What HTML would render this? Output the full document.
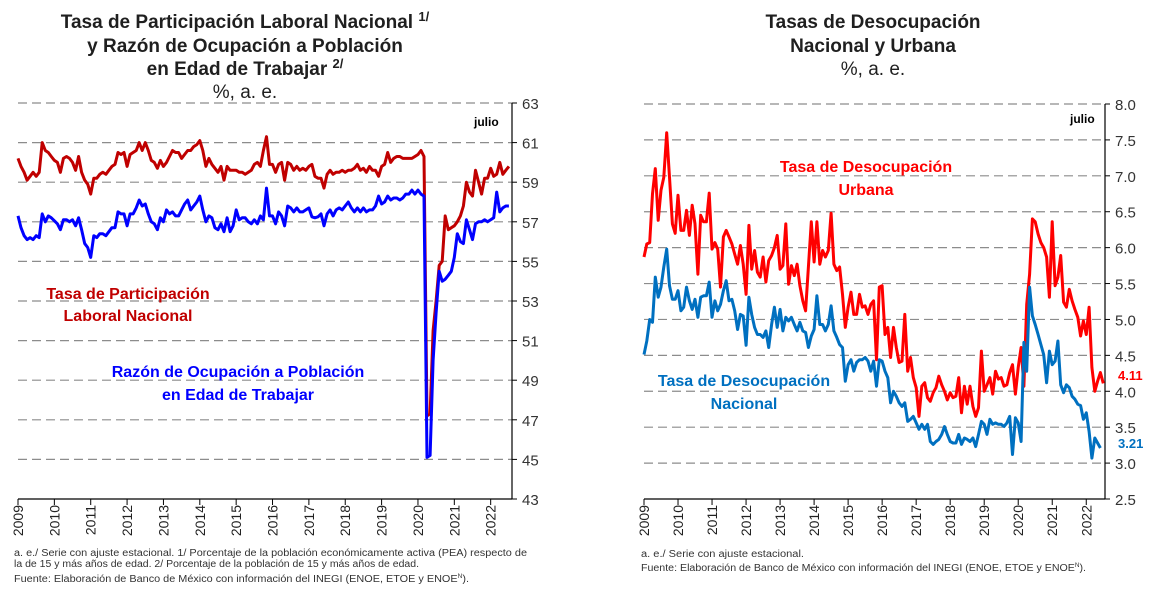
<!DOCTYPE html>
<html><head><meta charset="utf-8"><style>
html,body{margin:0;padding:0;background:#fff;}
svg{display:block;font-family:"Liberation Sans",sans-serif;}
</style></head><body>
<svg id="c" width="1160" height="591" viewBox="0 0 1160 591" xmlns="http://www.w3.org/2000/svg">
<g font-weight="bold" font-size="19" text-anchor="middle" fill="#1f1f1f">
<text x="245" y="28">Tasa de Participación Laboral Nacional <tspan font-size="13" dy="-7">1/</tspan></text>
<text x="245" y="52">y Razón de Ocupación a Población</text>
<text x="245" y="75">en Edad de Trabajar <tspan font-size="13" dy="-7">2/</tspan></text>
<text x="245" y="98" font-weight="normal">%, a. e.</text>
</g>
<g font-weight="bold" font-size="19" text-anchor="middle" fill="#1f1f1f">
<text x="873" y="28">Tasas de Desocupación</text>
<text x="873" y="52">Nacional y Urbana</text>
<text x="873" y="75" font-weight="normal">%, a. e.</text>
</g>
<g id="L"></g><g id="R"></g>
<g font-weight="bold" font-size="16" text-anchor="middle">
<text x="128" y="299" fill="#c00000">Tasa de Participación</text>
<text x="128" y="321" fill="#c00000">Laboral Nacional</text>
<text x="238" y="377" fill="#0000ff">Razón de Ocupación a Población</text>
<text x="238" y="400" fill="#0000ff">en Edad de Trabajar</text>
<text x="866" y="172" fill="#ff0000">Tasa de Desocupación</text>
<text x="866" y="195" fill="#ff0000">Urbana</text>
<text x="744" y="386" fill="#0070c0">Tasa de Desocupación</text>
<text x="744" y="409" fill="#0070c0">Nacional</text>
</g>
<text x="474" y="126" font-size="12" font-weight="bold">julio</text>
<text x="1070" y="123" font-size="12" font-weight="bold">julio</text>
<text x="1118" y="380" font-size="13" font-weight="bold" fill="#ff0000">4.11</text>
<text x="1118" y="448" font-size="13" font-weight="bold" fill="#0070c0">3.21</text>
<g font-size="10" fill="#333">
<text x="14" y="556" textLength="513" lengthAdjust="spacingAndGlyphs">a. e./ Serie con ajuste estacional. 1/ Porcentaje de la población económicamente activa (PEA) respecto de</text>
<text x="14" y="567" textLength="405" lengthAdjust="spacingAndGlyphs">la de 15 y más años de edad. 2/ Porcentaje de la población de 15 y más años de edad.</text>
<text x="14" y="582" textLength="455" lengthAdjust="spacingAndGlyphs">Fuente: Elaboración de Banco de México con información del INEGI (ENOE, ETOE y ENOE<tspan font-size="6" dy="-4">N</tspan><tspan dy="4">).</tspan></text>
</g>
<g font-size="10" fill="#333">
<text x="641" y="557" textLength="163" lengthAdjust="spacingAndGlyphs">a. e./ Serie con ajuste estacional.</text>
<text x="641" y="571" textLength="445" lengthAdjust="spacingAndGlyphs">Fuente: Elaboración de Banco de México con información del INEGI (ENOE, ETOE y ENOE<tspan font-size="6" dy="-4">N</tspan><tspan dy="4">).</tspan></text>
</g>
</svg>
<script>
const years=["2009","2010","2011","2012","2013","2014","2015","2016","2017","2018","2019","2020","2021","2022"];
const leftTicks=[43,45,47,49,51,53,55,57,59,61,63];
const rightTicks=["2.5","3.0","3.5","4.0","4.5","5.0","5.5","6.0","6.5","7.0","7.5","8.0"];
const participacion=[
60.2,59.8,59.5,59.1,59.3,59.5,59.3,59.5,61.0,60.6,60.5,60.3,
60.1,60.0,59.5,60.2,60.3,60.2,60.0,59.6,60.3,59.5,59.1,58.9,
58.4,59.2,59.2,59.4,59.5,59.4,59.6,59.8,59.9,60.5,60.4,60.5,
59.8,60.4,60.5,60.6,61.0,60.6,61.0,60.6,60.1,60.0,59.7,60.1,
59.8,60.0,60.3,60.6,60.5,60.5,60.2,60.4,60.6,60.6,60.8,60.9,
61.1,60.6,59.8,60.2,59.9,59.7,59.5,59.8,59.1,59.8,59.6,59.6,
59.6,59.5,59.5,59.4,59.5,59.6,59.9,60.0,59.8,60.6,61.3,59.9,
59.9,59.5,59.9,60.0,59.1,60.0,59.9,59.6,59.8,59.6,59.7,59.6,
59.8,59.9,59.3,59.2,59.2,58.7,59.4,59.6,59.4,59.5,59.5,59.6,
59.5,59.6,59.6,59.7,59.9,59.6,59.7,59.5,59.8,59.6,59.6,59.3,
59.8,59.9,60.5,60.0,60.2,60.3,60.3,60.2,60.2,60.2,60.2,60.3,
60.4,60.6,60.3,47.2,47.3,51.5,53.0,54.8,55.0,57.3,56.6,56.7,
56.8,57.0,57.3,57.8,59.0,58.5,58.3,59.6,59.0,58.4,59.2,59.2,
59.7,59.3,59.4,60.0,59.4,59.6,59.8];
const ocupacion=[
57.3,56.7,56.3,56.1,56.2,56.1,56.3,56.2,57.4,57.0,57.3,57.2,
57.05,56.9,56.6,57.1,57.1,57.0,57.1,56.8,57.2,56.6,55.9,55.7,
55.2,56.3,56.2,56.4,56.4,56.3,56.5,56.7,56.7,57.5,57.4,57.4,
56.8,57.4,57.4,57.7,58.1,57.8,57.9,57.4,57.0,56.9,56.6,57.2,
57.0,57.6,57.4,57.5,57.3,57.3,57.6,57.9,58.1,57.6,57.8,58.0,
58.3,57.6,57.0,57.3,57.2,56.7,56.6,56.9,56.5,57.2,56.5,56.8,
57.6,57.1,57.2,57.2,57.0,56.9,57.1,56.9,57.3,57.1,58.7,57.3,
57.3,56.9,57.5,57.3,56.8,57.8,57.7,57.5,57.7,57.5,57.5,57.6,
57.7,57.25,57.2,57.25,57.4,56.8,57.4,57.6,57.3,57.6,57.7,57.6,
57.8,58.0,57.7,57.5,57.7,57.5,57.7,57.5,57.6,57.6,57.8,58.3,
57.9,58.0,58.3,58.1,58.2,58.2,58.1,58.2,58.4,58.4,58.6,58.4,
58.6,58.4,58.3,45.1,45.2,50.0,52.4,54.5,54.0,54.1,54.3,54.5,
55.2,56.4,56.0,55.9,57.1,56.6,56.1,56.9,57.0,57.0,57.1,57.0,
57.1,57.2,58.5,57.5,57.7,57.8,57.8];
const urbana=[
5.87,6.05,6.07,6.75,7.10,6.38,6.80,6.98,7.60,6.98,6.33,6.20,
6.73,6.24,6.24,6.52,6.17,6.59,6.33,5.63,6.45,6.36,6.36,6.76,
5.98,6.07,5.98,5.45,6.15,6.24,6.15,6.05,5.91,5.77,6.03,5.77,
5.35,6.31,5.70,5.96,5.66,5.59,5.87,5.52,5.82,5.89,6.00,6.17,
5.70,5.75,6.33,5.49,5.75,5.61,5.77,5.47,5.26,5.12,5.73,6.36,
5.80,6.36,5.77,5.96,5.87,5.96,6.48,5.77,5.68,5.73,5.35,4.89,
5.17,5.38,5.07,5.07,5.35,5.17,5.19,5.07,5.21,5.26,4.44,5.45,
5.47,4.79,4.89,4.47,4.89,4.61,4.40,4.42,5.07,4.28,4.47,4.19,
4.05,3.65,4.07,4.12,3.91,3.86,3.98,4.05,4.21,4.09,4.00,3.88,
3.98,3.91,3.93,4.19,3.70,4.07,3.82,4.07,3.79,3.65,3.77,4.56,
4.00,4.09,4.19,3.96,4.28,4.17,4.19,4.07,4.09,4.26,4.37,3.96,
4.33,4.61,4.07,5.21,5.63,6.40,6.36,6.19,6.07,6.00,5.87,5.31,
6.36,5.47,5.59,5.89,5.24,5.17,5.42,5.26,5.14,5.03,4.77,4.98,
4.79,5.17,4.33,4.00,4.14,4.26,4.11];
const nacional=[
4.51,4.70,5.00,4.96,5.59,5.31,5.45,5.73,5.98,5.47,5.28,5.28,
5.40,5.12,5.17,5.45,5.26,5.14,5.28,5.03,5.31,5.33,5.33,5.52,
5.03,5.26,5.12,5.21,5.40,5.54,5.26,5.28,5.12,4.86,5.07,5.05,
4.64,5.31,5.07,4.89,4.79,4.79,4.75,4.84,4.61,4.93,5.17,4.89,
5.14,4.84,5.03,4.98,5.03,4.93,4.84,4.96,4.84,4.82,4.61,4.77,
4.86,5.33,4.93,4.93,4.84,4.93,5.19,4.84,4.75,4.65,4.61,4.14,
4.37,4.44,4.28,4.40,4.44,4.44,4.47,4.42,4.28,4.42,4.07,4.44,
4.42,4.28,4.19,3.84,4.00,3.93,3.84,3.79,3.84,3.58,3.61,3.65,
3.56,3.47,3.54,3.47,3.54,3.30,3.26,3.30,3.33,3.40,3.51,3.40,
3.30,3.28,3.28,3.40,3.26,3.35,3.33,3.30,3.35,3.23,3.40,3.58,
3.54,3.40,3.61,3.54,3.56,3.54,3.54,3.51,3.56,3.65,3.12,3.63,
3.56,3.30,4.68,4.28,5.45,5.05,4.93,4.79,4.65,4.51,4.12,4.56,
4.37,4.42,4.70,4.09,3.98,4.09,4.05,3.93,3.89,3.82,3.80,3.61,
3.70,3.44,3.07,3.35,3.28,3.21];

const NS="http://www.w3.org/2000/svg";
function mk(tag,attrs,parent,txt){const e=document.createElementNS(NS,tag);for(const k in attrs)e.setAttribute(k,attrs[k]);if(txt!==undefined)e.textContent=txt;parent.appendChild(e);return e;}

function panel(g,cfg){
  const xs=i=>cfg.x0+cfg.mw*i;
  const ys=v=>cfg.yTop+(cfg.vmax-v)*(cfg.yBot-cfg.yTop)/(cfg.vmax-cfg.vmin);
  cfg.ticks.forEach((t,k)=>{
    const v=+t;const y=ys(v);
    if(k>0){
      const gl=mk('line',{x1:cfg.x0,x2:cfg.xR,y1:y,y2:y,stroke:'#8c8c8c','stroke-width':1.2,'stroke-dasharray':'9,5'},g);
      
      
    }
    const tk=mk('line',{x1:cfg.xR,x2:cfg.xR+5,y1:y,y2:y,stroke:'#000'},g);
    
    
    const tl=mk('text',{x:cfg.xR+10,y:y+6,'font-size':15,fill:'#333'},g,t);
    
    
  });
  const ax=mk('line',{x1:cfg.xR,x2:cfg.xR,y1:cfg.yTop,y2:cfg.yBot,stroke:'#000','stroke-width':1.2},g);
  
  
  const xa=mk('line',{x1:cfg.x0,x2:cfg.xR,y1:cfg.yBot,y2:cfg.yBot,stroke:'#000','stroke-width':1.2},g);
  
  
  years.forEach((yr,k)=>{
    const x=xs(k*12);
    const t=mk('line',{x1:x,x2:x,y1:cfg.yBot,y2:cfg.yBot+6,stroke:'#000'},g);
    
    
    const l=mk('text',{x:0,y:0,'font-size':14,fill:'#222','text-anchor':'end',transform:`translate(${x+5},${cfg.yBot+6}) rotate(-90)`},g,yr);
    
    
  });
  cfg.series.forEach(s=>{
    const d=s.data.map((v,i)=>(i?'L':'M')+xs(i).toFixed(1)+','+ys(v).toFixed(1)).join('');
    const p=mk('path',{d,fill:'none',stroke:s.color,'stroke-width':3,'stroke-linejoin':'round'},g);
    
    
  });
}
panel(document.getElementById('L'),{x0:18,mw:3.03,xR:512,yTop:103,yBot:499,vmin:43,vmax:63,
  ticks:leftTicks.map(String),
  series:[{data:participacion,color:'#c00000',name:'participation-line'},{data:ocupacion,color:'#0000ff',name:'occupation-line'}]});
panel(document.getElementById('R'),{x0:644,mw:2.835,xR:1105,yTop:104,yBot:499,vmin:2.5,vmax:8.0,
  ticks:rightTicks,
  series:[{data:urbana,color:'#ff0000',name:'urban-unemployment-line'},{data:nacional,color:'#0070c0',name:'national-unemployment-line'}]});
</script>
</body></html>
